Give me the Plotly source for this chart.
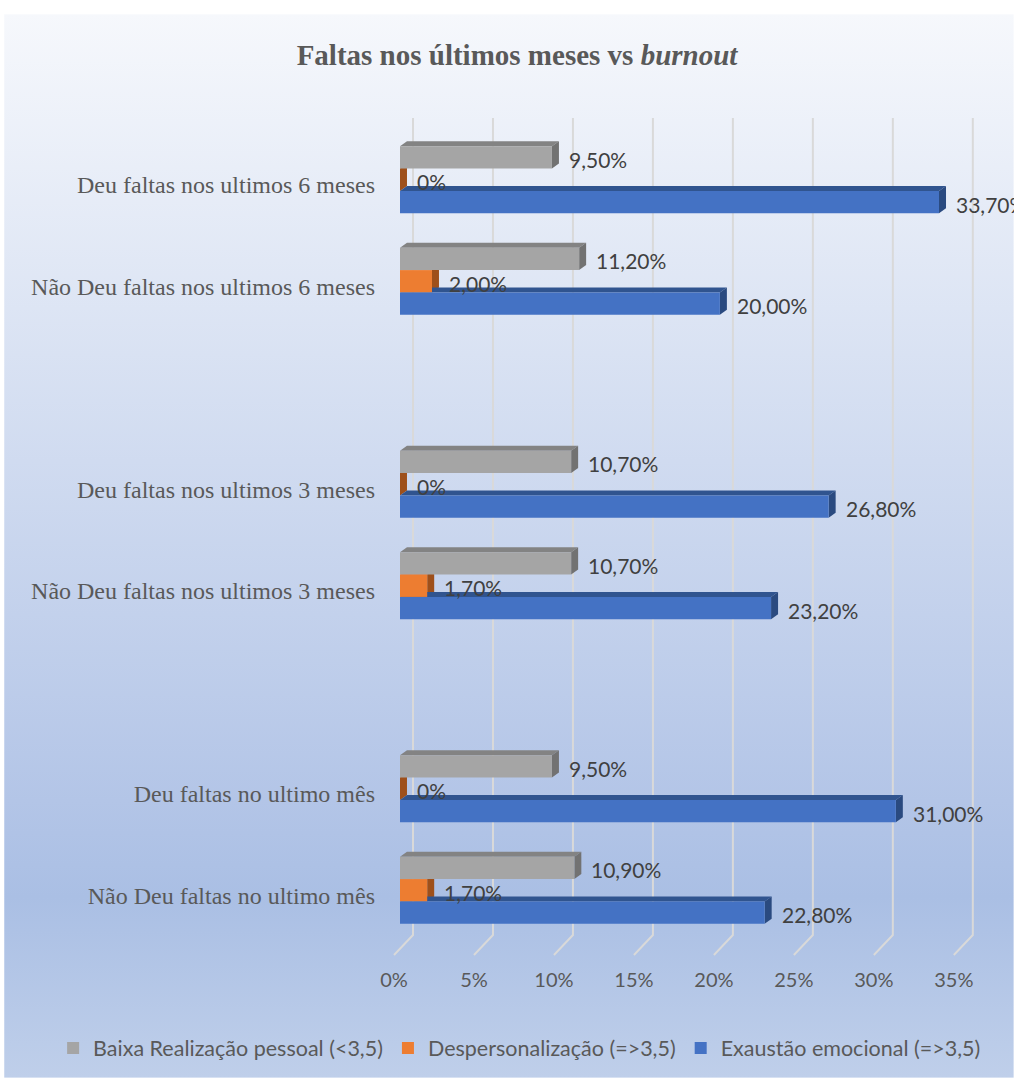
import base64
import plotly.graph_objects as go

# ---------------- data ----------------
categories = [
    "Deu faltas nos ultimos 6 meses",
    "Não Deu faltas nos ultimos 6 meses",
    "",
    "Deu faltas nos ultimos 3 meses",
    "Não Deu faltas nos ultimos 3 meses",
    "",
    "Deu faltas no ultimo mês",
    "Não Deu faltas no ultimo mês",
]
series_names = [
    "Baixa Realização pessoal (<3,5)",
    "Despersonalização (=>3,5)",
    "Exaustão emocional (=>3,5)",
]
baixa_realizacao = [9.5, 11.2, None, 10.7, 10.7, None, 9.5, 10.9]
despersonalizacao = [0.0, 2.0, None, 0.0, 1.7, None, 0.0, 1.7]
exaustao = [33.7, 20.0, None, 26.8, 23.2, None, 31.0, 22.8]
x_ticks = [0, 5, 10, 15, 20, 25, 30, 35]
title_text = "<b>Faltas nos últimos meses vs <i>burnout</i></b>"

# ---------------- styling ----------------
W, H = 1014, 1079
PX_PER_UNIT = 16.0
XMIN, XMAX = -0.5, 36.2
ML = 400 - (-XMIN) * PX_PER_UNIT
PW = (XMAX - XMIN) * PX_PER_UNIT
MR = W - ML - PW
MT, MB = 129, 137
PH = H - MT - MB
front_colors = ["#a5a5a5", "#ed7d31", "#4472c4"]
top_colors = ["#838383", "#b55d22", "#30548f"]
side_colors = ["#727272", "#9e501b", "#2a4a80"]
bargap = 0.34
group_w = 1 - bargap
bar_w = group_w / 3
n = len(categories)
px_y = PH / n
dx = 7 / PX_PER_UNIT   # depth in data units
dy = 5 / px_y


def yp(py):
    return (H - MB - py) / PH


def xp(px):
    return (px - ML) / PW


def fmt(v):
    return "0%" if v == 0 else f"{v:.2f}".replace(".", ",") + "%"


series = [baixa_realizacao, despersonalizacao, exaustao]
positions = list(range(n))

fig = go.Figure()
shapes = []
annotations = []

# background gradient
svg = (
    '<svg xmlns="http://www.w3.org/2000/svg" width="1010" height="1065">'
    '<defs><linearGradient id="g" x1="0" y1="0" x2="0" y2="1">'
    '<stop offset="0" stop-color="#f6f8fc"/>'
    '<stop offset="0.74" stop-color="#b3c5e7"/>'
    '<stop offset="0.83" stop-color="#aabfe4"/>'
    '<stop offset="1" stop-color="#bfcfea"/>'
    '</linearGradient></defs>'
    '<rect width="1010" height="1065" fill="url(#g)"/></svg>'
)
src = "data:image/svg+xml;base64," + base64.b64encode(svg.encode()).decode()
images = [dict(source=src, xref="paper", yref="paper",
               x=xp(4), y=yp(14), sizex=1010 / PW, sizey=1065 / PH,
               xanchor="left", yanchor="top", sizing="stretch", layer="below")]

# 3D-style gridlines (back wall + floor)
for v in x_ticks:
    shapes.append(dict(type="path", xref="x", yref="paper", xsizemode="pixel", xanchor=v,
                       path=f"M 13,{yp(118)} L 13,{yp(936)} L -6,{yp(956)}",
                       line=dict(color="#d9d9d9", width=2), layer="below"))

for k, vals in enumerate(series):
    offset = -group_w / 2 + k * bar_w
    fig.add_trace(go.Bar(
        y=positions, x=vals, orientation="h", name=series_names[k],
        width=bar_w, offset=offset,
        marker=dict(color=front_colors[k], line=dict(width=0)),
        hovertemplate="%{x}%<extra>" + series_names[k] + "</extra>",
    ))
    for i, v in enumerate(vals):
        if v is None:
            continue
        top = i + offset
        bot = top + bar_w
        shapes.append(dict(type="path", xref="x", yref="y", layer="between",
                           path=f"M 0,{top} L {v},{top} L {v+dx},{top-dy} L {dx},{top-dy} Z",
                           fillcolor=top_colors[k], line=dict(width=0)))
        shapes.append(dict(type="path", xref="x", yref="y", layer="between",
                           path=f"M {v},{top} L {v+dx},{top-dy} L {v+dx},{bot-dy} L {v},{bot} Z",
                           fillcolor=side_colors[k], line=dict(width=0)))
        annotations.append(dict(x=v, y=top + bar_w / 2, xref="x", yref="y",
                                text=fmt(v), showarrow=False, xanchor="left",
                                xshift=15, yshift=-2,
                                font=dict(family="Lato", size=21, color="#404040")))

fig.update_layout(
    width=W, height=H, autosize=False,
    margin=dict(l=ML, r=MR, t=MT, b=MB, pad=0),
    paper_bgcolor="white", plot_bgcolor="rgba(0,0,0,0)",
    barmode="overlay",
    title=dict(text=title_text, x=517 / W, xanchor="center", xref="container",
               y=1 - 55 / H, yanchor="middle", yref="container",
               font=dict(family="Liberation Serif", size=29, color="#595959")),
    xaxis=dict(range=[XMIN, XMAX], tickvals=x_ticks, ticktext=[f"{v}%" for v in x_ticks],
               showgrid=False, zeroline=False, showline=False, ticks="",
               ticklabelstandoff=25, ticklabelshift=-6,
               tickfont=dict(family="Lato", size=20, color="#595959")),
    yaxis=dict(range=[n - 0.5, -0.5],
               tickvals=[i for i, c in enumerate(categories) if c],
               ticktext=[c for c in categories if c],
               showgrid=False, zeroline=False, showline=False, ticks="",
               ticklabelstandoff=16, ticklabelshift=-5,
               tickfont=dict(family="Liberation Serif", size=24, color="#595959")),
    legend=dict(orientation="h", xref="paper", yref="paper",
                x=xp(53), xanchor="left", y=yp(1048), yanchor="middle",
                font=dict(family="Lato", size=21.5, color="#595959"),
                bgcolor="rgba(0,0,0,0)", itemwidth=30, traceorder="normal"),
    shapes=shapes, annotations=annotations, images=images,
    showlegend=True,
)

fig.write_html("out.html", config={"displayModeBar": False},
               post_script="document.body.style.margin='0';document.body.style.overflow='hidden';")
